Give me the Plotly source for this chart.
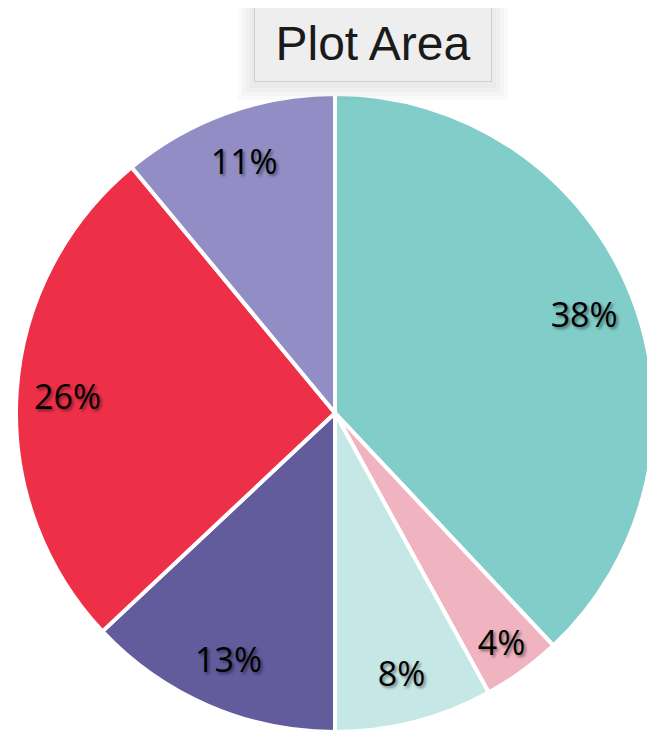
import plotly.graph_objects as go

labels = ["A", "B", "C", "D", "E", "F"]
values = [38, 4, 8, 13, 26, 11]
colors = ["#81CDCA", "#F0B4C0", "#C5E8E6", "#625B9C", "#EE2F48", "#928EC5"]
title_text = "Plot Area"

common = dict(labels=labels, values=values, sort=False, direction="clockwise",
              rotation=0, showlegend=False)

fig = go.Figure()
# colored slices
fig.add_trace(go.Pie(
    **common,
    marker=dict(colors=colors, line=dict(color="white", width=4)),
    textinfo="none",
    hoverinfo="label+percent",
))
# labels near the outer edge (transparent ring)
fig.add_trace(go.Pie(
    **common,
    hole=0.68,
    marker=dict(colors=["rgba(0,0,0,0)"] * len(values), line=dict(width=0)),
    textinfo="percent",
    texttemplate="%{percent:.0%}",
    textposition="inside",
    insidetextorientation="horizontal",
    textfont=dict(family="Open Sans, Liberation Sans, sans-serif", size=34, color="black",
                  shadow="2px 2px 3px rgba(0,0,0,0.45)"),
    hoverinfo="skip",
))

BOX_X = 0.5596
BASE_SHIFT = 12
BOX_W, BOX_H, PAD = 218, 57, 9
shadow_annots = []
for e in (16, 12, 8, 4):
    shadow_annots.append(dict(
        text=" ", x=BOX_X, xref="paper", y=1, yref="paper",
        xanchor="center", yanchor="bottom", yshift=BASE_SHIFT - e - 2,
        showarrow=False, font=dict(size=10),
        bgcolor="rgba(0,0,0,0.018)", borderwidth=0, borderpad=0,
        width=BOX_W + 2 * PAD + 2 + 2 * e, height=BOX_H + 2 * PAD + 2 + 2 * e,
    ))

fig.update_layout(
    width=655, height=736,
    margin=dict(l=8, r=9, t=86, b=12),
    paper_bgcolor="white",
    plot_bgcolor="white",
    uniformtext=dict(minsize=34, mode="show"),
    annotations=shadow_annots + [
        dict(text=title_text, x=BOX_X, xref="paper", y=1, yref="paper",
             xanchor="center", yanchor="bottom", yshift=BASE_SHIFT,
             showarrow=False,
             font=dict(family="Liberation Sans, Arial, sans-serif", size=48, color="#1A1A1A"),
             bgcolor="#EEEEEE", bordercolor="#CFCFCF", borderwidth=1, borderpad=PAD,
             width=BOX_W, height=BOX_H),
    ],
)

fig.write_html("out.html")
